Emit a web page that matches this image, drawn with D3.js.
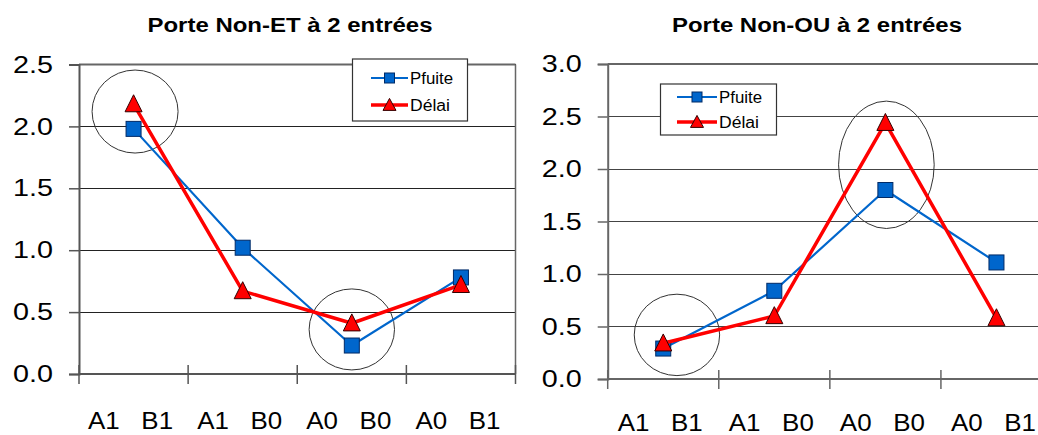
<!DOCTYPE html>
<html>
<head>
<meta charset="utf-8">
<script src="https://cdn.jsdelivr.net/npm/d3@7"></script>
<style>
  html, body { margin: 0; padding: 0; background: #fff; }
  svg { display: block; font-family: Arial, "Liberation Sans", sans-serif; }
</style>
</head>
<body>
<svg id="chart" width="1038" height="435"></svg>
<script>
// ---- data ----
const categories = ["A1   B1", "A1   B0", "A0   B0", "A0   B1"];
const seriesNames = ["Pfuite", "Délai"];

const nandTitle = "Porte Non-ET à 2 entrées";
const nandPfuite = [1.98, 1.02, 0.23, 0.78];
const nandDelai = [2.18, 0.67, 0.41, 0.72];
const nandTicks = [0.0, 0.5, 1.0, 1.5, 2.0, 2.5];
const nandHighlights = [{ cat: 0, value: 2.12 }, { cat: 2, value: 0.36 }];

const norTitle = "Porte Non-OU à 2 entrées";
const norPfuite = [0.29, 0.84, 1.80, 1.11];
const norDelai = [0.34, 0.60, 2.44, 0.58];
const norTicks = [0.0, 0.5, 1.0, 1.5, 2.0, 2.5, 3.0];
const norHighlights = [{ cat: 0, value: 0.42 }, { cat: 2, value: 2.04 }];

// ---- layout / style ----
const BLUE = "#0066CC", RED = "#FF0000";
const svg = d3.select("#chart");
svg.append("rect").attr("width", 1038).attr("height", 435).attr("fill", "#fff");

const charts = [
  {
    title: nandTitle, ticks: nandTicks, pfuite: nandPfuite, delai: nandDelai, highlights: nandHighlights,
    x0: 79, x1: 515.5, yTop: 64.5, yBot: 374, grid: "#222", axis: "#555",
    titleX: 290, titleY: 32, titleLen: 285, labelY: 429, rightBorder: true,
    legend: { x: 352.5, y: 59, w: 115, h: 62, rows: [78, 105], lx0: 371, lx1: 408, tx: 410 },
    hl: [{ dx: 1.5, rx: 43, ry: 41.5 }, { dx: 0, rx: 42.7, ry: 40.5 }]
  },
  {
    title: norTitle, ticks: norTicks, pfuite: norPfuite, delai: norDelai, highlights: norHighlights,
    x0: 607.7, x1: 1052, yTop: 64, yBot: 379, grid: "#444", axis: "#666",
    titleX: 817, titleY: 32, titleLen: 290, labelY: 431, rightBorder: false,
    legend: { x: 660.5, y: 84, w: 116, h: 51, rows: [97, 122], lx0: 677, lx1: 717, tx: 719 },
    hl: [{ dx: 13.7, rx: 42.7, ry: 40.7 }, { dx: 1, rx: 47.8, ry: 63.7 }]
  }
];

function drawSquare(g, cx, cy, s) {
  g.append("rect").attr("x", cx - s / 2).attr("y", cy - s / 2).attr("width", s).attr("height", s)
    .attr("fill", BLUE).attr("stroke", "#002a66").attr("stroke-width", 1);
}
function drawTriangle(g, cx, cy, w, h) {
  g.append("path")
    .attr("d", `M${cx},${cy - h * 0.55} L${cx + w / 2},${cy + h * 0.45} L${cx - w / 2},${cy + h * 0.45} Z`)
    .attr("fill", RED).attr("stroke", "#330000").attr("stroke-width", 1);
}

charts.forEach(c => {
  const g = svg.append("g");
  const x = d3.scaleBand().domain(categories).range([c.x0, c.x1]).paddingInner(0).paddingOuter(0);
  const maxV = d3.max(c.ticks);
  const y = d3.scaleLinear().domain([0, maxV]).range([c.yBot, c.yTop]);
  const cx = i => x(categories[i]) + x.bandwidth() / 2;

  // title
  g.append("text").attr("x", c.titleX).attr("y", c.titleY).attr("text-anchor", "middle")
    .attr("font-size", 20).attr("font-weight", "bold").attr("fill", "#000")
    .attr("textLength", c.titleLen).attr("lengthAdjust", "spacingAndGlyphs").text(c.title);

  // gridlines
  g.append("g").selectAll("line").data(c.ticks.filter(t => t > 0)).join("line")
    .attr("x1", c.x0).attr("x2", c.x1).attr("y1", d => y(d)).attr("y2", d => y(d))
    .attr("stroke", c.grid).attr("stroke-width", 1).attr("shape-rendering", "crispEdges");
  // top border
  g.append("line").attr("x1", c.x0).attr("x2", c.x1).attr("y1", y(maxV)).attr("y2", y(maxV))
    .attr("stroke", "#666").attr("stroke-width", 2);
  if (c.rightBorder) {
    g.append("line").attr("x1", c.x1).attr("x2", c.x1).attr("y1", y(maxV)).attr("y2", c.yBot)
      .attr("stroke", "#666").attr("stroke-width", 1.5);
  }

  // y axis
  const ya = g.append("g").attr("transform", `translate(${c.x0},0)`)
    .call(d3.axisLeft(y).tickValues(c.ticks).tickFormat(d3.format(".1f")).tickSize(10).tickPadding(16));
  ya.select(".domain").attr("stroke", c.axis).attr("stroke-width", 2);
  ya.selectAll(".tick line").attr("stroke", c.axis).attr("stroke-width", 1.5);
  ya.selectAll(".tick text").attr("font-size", 24).attr("fill", "#000")
    .attr("font-family", "Arial, 'Liberation Sans', sans-serif")
    .attr("textLength", 40).attr("lengthAdjust", "spacingAndGlyphs");

  // x axis
  const xa = g.append("g");
  xa.append("line").attr("x1", c.x0).attr("x2", c.x1).attr("y1", c.yBot).attr("y2", c.yBot)
    .attr("stroke", c.axis).attr("stroke-width", 2);
  const bounds = categories.map(k => x(k)).concat([x.range()[1]]);
  xa.selectAll("line.tk").data(bounds).join("line").attr("class", "tk")
    .attr("x1", d => d).attr("x2", d => d).attr("y1", c.yBot - 9).attr("y2", c.yBot + 10)
    .attr("stroke", c.axis).attr("stroke-width", 1.5);
  xa.selectAll("text").data(categories).join("text")
    .attr("x", d => x(d) + x.bandwidth() / 2 - 3).attr("y", c.labelY)
    .attr("text-anchor", "middle").attr("font-size", 24).attr("fill", "#000")
    .attr("textLength", 85).attr("lengthAdjust", "spacingAndGlyphs")
    .attr("xml:space", "preserve").style("white-space", "pre").text(d => d);

  // highlight ellipses
  c.highlights.forEach((h, i) => {
    g.append("ellipse").attr("cx", cx(h.cat) + c.hl[i].dx).attr("cy", y(h.value))
      .attr("rx", c.hl[i].rx).attr("ry", c.hl[i].ry)
      .attr("fill", "none").attr("stroke", "#333").attr("stroke-width", 1);
  });

  // series lines
  const line = d3.line().x((d, i) => cx(i)).y(d => y(d));
  g.append("path").datum(c.pfuite).attr("d", line).attr("fill", "none")
    .attr("stroke", BLUE).attr("stroke-width", 2.2).attr("stroke-linejoin", "round");
  c.pfuite.forEach((v, i) => drawSquare(g, cx(i), y(v), 15));
  g.append("path").datum(c.delai).attr("d", line).attr("fill", "none")
    .attr("stroke", RED).attr("stroke-width", 3.5).attr("stroke-linejoin", "round");
  c.delai.forEach((v, i) => drawTriangle(g, cx(i), y(v), 17, 17));

  // legend
  const L = c.legend;
  g.append("rect").attr("x", L.x).attr("y", L.y).attr("width", L.w).attr("height", L.h)
    .attr("fill", "#fff").attr("stroke", "#333").attr("stroke-width", 1.2);
  seriesNames.forEach((name, i) => {
    const ry = L.rows[i];
    g.append("line").attr("x1", L.lx0).attr("x2", L.lx1).attr("y1", ry).attr("y2", ry)
      .attr("stroke", i === 0 ? BLUE : RED).attr("stroke-width", i === 0 ? 2.2 : 3.5);
    const mx = (L.lx0 + L.lx1) / 2;
    if (i === 0) drawSquare(g, mx, ry, 10); else drawTriangle(g, mx, ry, 13, 12);
    g.append("text").attr("x", L.tx).attr("y", ry + 6).attr("font-size", 16).attr("fill", "#000")
      .attr("textLength", name === "Pfuite" ? 43 : 40).attr("lengthAdjust", "spacingAndGlyphs").text(name);
  });
});
</script>
</body>
</html>
